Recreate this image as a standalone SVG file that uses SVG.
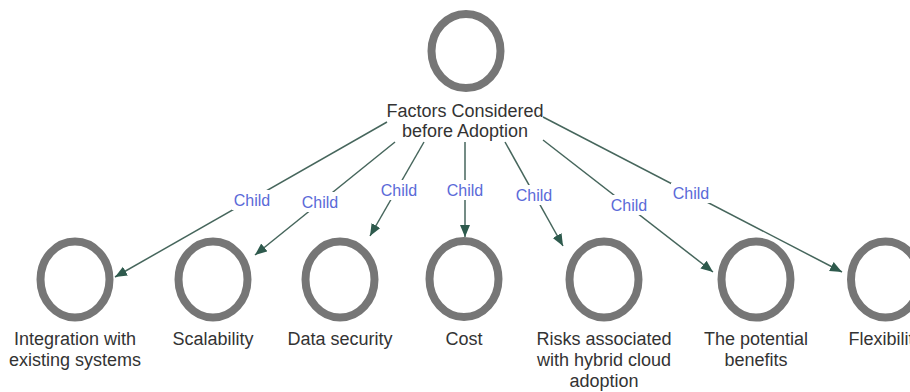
<svg xmlns="http://www.w3.org/2000/svg" width="910" height="392" viewBox="0 0 910 392">
<style>
.ring{fill:#fff;stroke:#767676;stroke-width:8}
.lbl{font-family:"Liberation Sans",Arial,sans-serif;font-size:18px;fill:#333;text-anchor:middle}
.edge{fill:none;stroke:#46665c;stroke-width:1.5}
.cl{font-family:"Liberation Sans",Arial,sans-serif;font-size:16px;fill:#5a6ad8;text-anchor:middle}
.bg{fill:#fff}
</style>
<defs>
<marker id="arr" markerUnits="userSpaceOnUse" markerWidth="14" markerHeight="12" refX="12" refY="5" orient="auto">
<path d="M0,0 L12,5 L0,10 Z" fill="#2e5a4d"/>
</marker>
</defs>
<rect width="910" height="392" fill="#fff"/>
<g id="connectors">
<line class="edge" x1="387" y1="122" x2="115" y2="277" marker-end="url(#arr)"/>
<line class="edge" x1="395" y1="142" x2="255" y2="255" marker-end="url(#arr)"/>
<line class="edge" x1="424" y1="142" x2="370" y2="236" marker-end="url(#arr)"/>
<line class="edge" x1="465" y1="142" x2="465" y2="237" marker-end="url(#arr)"/>
<line class="edge" x1="505" y1="142" x2="563" y2="246" marker-end="url(#arr)"/>
<line class="edge" x1="543" y1="140" x2="713" y2="272" marker-end="url(#arr)"/>
<line class="edge" x1="543" y1="117" x2="842" y2="272" marker-end="url(#arr)"/>
<rect class="bg" x="232" y="190" width="40" height="20"/>
<text class="cl" x="252" y="206">Child</text>
<rect class="bg" x="300" y="192" width="40" height="20"/>
<text class="cl" x="320" y="208">Child</text>
<rect class="bg" x="379" y="180" width="40" height="20"/>
<text class="cl" x="399" y="196">Child</text>
<rect class="bg" x="445" y="180" width="40" height="20"/>
<text class="cl" x="465" y="196">Child</text>
<rect class="bg" x="514" y="185" width="40" height="20"/>
<text class="cl" x="534" y="201">Child</text>
<rect class="bg" x="609" y="195" width="40" height="20"/>
<text class="cl" x="629" y="211">Child</text>
<rect class="bg" x="671" y="183" width="40" height="20"/>
<text class="cl" x="691" y="199">Child</text>
</g>
<g id="root">
<ellipse class="ring" cx="466" cy="51" rx="34.5" ry="37"/>
<text class="lbl" x="465" y="117">Factors Considered</text>
<text class="lbl" x="465" y="137">before Adoption</text>
</g>
<g id="integration">
<ellipse class="ring" cx="75" cy="279.5" rx="34.5" ry="38"/>
<text class="lbl" x="75" y="345">Integration with</text>
<text class="lbl" x="75" y="366">existing systems</text>
</g>
<g id="scalability">
<ellipse class="ring" cx="213" cy="279.5" rx="34.5" ry="38"/>
<text class="lbl" x="213" y="345">Scalability</text>
</g>
<g id="datasecurity">
<ellipse class="ring" cx="340" cy="279.5" rx="34.5" ry="38"/>
<text class="lbl" x="340" y="345">Data security</text>
</g>
<g id="cost">
<ellipse class="ring" cx="464" cy="279" rx="34.5" ry="38"/>
<text class="lbl" x="464" y="345">Cost</text>
</g>
<g id="risks">
<ellipse class="ring" cx="604" cy="279.5" rx="34.5" ry="38"/>
<text class="lbl" x="604" y="345">Risks associated</text>
<text class="lbl" x="604" y="366">with hybrid cloud</text>
<text class="lbl" x="604" y="387">adoption</text>
</g>
<g id="benefits">
<ellipse class="ring" cx="756" cy="279.5" rx="34.5" ry="38"/>
<text class="lbl" x="756" y="345">The potential</text>
<text class="lbl" x="756" y="366">benefits</text>
</g>
<g id="flexibility">
<ellipse class="ring" cx="885.5" cy="279.5" rx="34.5" ry="38"/>
<text class="lbl" x="885.5" y="345">Flexibility</text>
</g>
</svg>
